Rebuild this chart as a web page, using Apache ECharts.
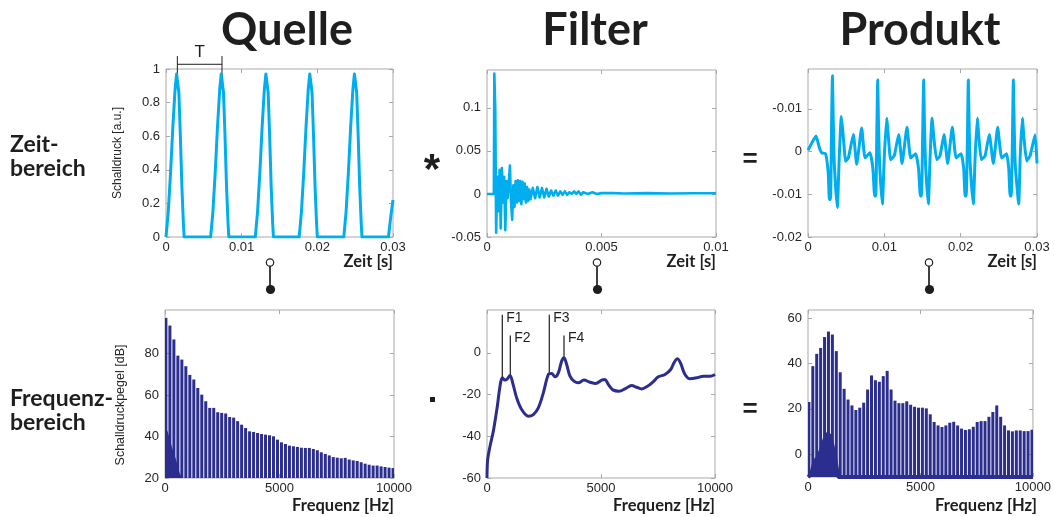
<!DOCTYPE html>
<html><head><meta charset="utf-8">
<script src="https://cdn.jsdelivr.net/npm/echarts@6/dist/echarts.min.js"></script>
<style>html,body{margin:0;padding:0;background:#fff}#c{width:1054px;height:517px}</style>
</head><body><div id="c"></div>
<script>
// ---------------- DATA ----------------
// Quelle, Zeitbereich: [t (s), Schalldruck (a.u.)]
const sourceTime = [
[0,0],[0.0003,0.15],[0.0006,0.38],[0.0009,0.65],[0.0012,0.88],[0.0014,0.97],[0.0015,0.98],[0.0017,0.86],[0.0019,0.6],[0.0021,0.3],[0.0023,0.08],[0.0024,0],
[0.0059,0],[0.0062,0.15],[0.0065,0.38],[0.0068,0.65],[0.0071,0.88],[0.0073,0.97],[0.0074,0.98],[0.0076,0.86],[0.0078,0.6],[0.008,0.3],[0.0082,0.08],[0.0083,0],
[0.0118,0],[0.0121,0.15],[0.0124,0.38],[0.0127,0.65],[0.013,0.88],[0.0132,0.97],[0.0133,0.98],[0.0135,0.86],[0.0137,0.6],[0.0139,0.3],[0.0141,0.08],[0.0142,0],
[0.0176,0],[0.0179,0.15],[0.0182,0.38],[0.0185,0.65],[0.0188,0.88],[0.019,0.97],[0.0191,0.98],[0.0193,0.86],[0.0195,0.6],[0.0197,0.3],[0.0199,0.08],[0.02,0],
[0.0235,0],[0.0238,0.15],[0.0241,0.38],[0.0244,0.65],[0.0247,0.88],[0.0249,0.97],[0.025,0.98],[0.0252,0.86],[0.0254,0.6],[0.0256,0.3],[0.0258,0.08],[0.0259,0],
[0.0294,0],[0.0297,0.12],[0.03,0.22]
];
// Filter, Zeitbereich (Impulsantwort)
const filterTime = [
[0,0],[0.0003,0],[0.00032,0.14],[0.00036,0.1],[0.0004,-0.045],[0.00045,0.02],[0.0005,-0.02],[0.00055,0.028],[0.0006,-0.04],[0.00065,0.03],[0.0007,-0.01],[0.00075,0.02],[0.0008,-0.042],[0.00085,0.015],[0.0009,-0.005],[0.00095,0.012],[0.001,0.033],[0.00105,-0.01],[0.0011,-0.03],[0.00115,0.01],[0.0012,-0.015],[0.00125,0.015],[0.0013,-0.01],[0.00135,0.016],[0.0014,-0.008],[0.00145,0.015],[0.0015,-0.012],[0.00155,0.014],[0.0016,-0.006],[0.00165,0.012],[0.0017,-0.01],[0.00175,0.008],[0.0018,-0.008],[0.00185,0.005],[0.0019,-0.006],[0.002,0.007],[0.0021,-0.005],[0.0022,0.008],[0.0023,-0.004],[0.0024,0.007],[0.0025,-0.004],[0.0026,0.006],[0.0027,-0.003],[0.0028,0.004],[0.0029,-0.002],[0.003,0.004],[0.0031,-0.002],[0.0032,0.003],[0.0033,-0.001],[0.0034,0.003],[0.0035,-0.001],[0.0036,0.002],[0.0037,0],[0.0038,0.003],[0.0039,0],[0.004,0.003],[0.0041,-0.001],[0.0042,0.002],[0.0044,0],[0.0046,0.002],[0.0048,0],[0.005,0.001],[0.0055,0.001],[0.006,0.0005],[0.007,0.001],[0.008,0.0005],[0.009,0.0008],[0.01,0.0008]
];
// Produkt, Zeitbereich
const productTime = [
[0,0.0003],[0.0005,0.002],[0.00105,0.0036],[0.0015,0.0008],[0.0018,-0.0003],[0.0023,-0.0005],
[0.00265,-0.005],[0.0028,-0.0112],[0.00295,-0.0112],[0.00308,0.005],[0.0032,0.0177],[0.0033,0.008],[0.00345,-0.003],[0.00384,-0.0131],[0.0041,-0.001],[0.00437,0.0082],[0.0046,0.004],[0.00494,-0.0023],[0.0053,-0.0014],[0.00594,0.004],[0.00638,-0.003],[0.00703,0.0055],[0.00747,-0.0015],[0.00812,-0.0003],
[0.0085,-0.004],[0.00873,-0.0104],[0.00888,-0.0104],[0.00902,0.005],[0.00913,0.0167],[0.00923,0.007],[0.00938,-0.003],[0.00974,-0.0123],[0.01,-0.001],[0.01031,0.0078],[0.01055,0.003],[0.01083,-0.0019],[0.0113,-0.001],[0.01188,0.004],[0.01232,-0.0028],[0.01297,0.0057],[0.01345,-0.0015],[0.0141,-0.0005],
[0.01448,-0.004],[0.01472,-0.0104],[0.01487,-0.0104],[0.01503,0.005],[0.01515,0.0167],[0.01525,0.007],[0.0154,-0.003],[0.01576,-0.0123],[0.016,-0.001],[0.01625,0.0078],[0.0165,0.003],[0.01686,-0.0019],[0.0173,-0.001],[0.01782,0.004],[0.0183,-0.0028],[0.01891,0.0057],[0.0194,-0.0015],[0.02005,-0.0005],
[0.0204,-0.004],[0.02058,-0.0104],[0.02073,-0.0104],[0.0209,0.005],[0.021,0.0167],[0.0211,0.007],[0.02125,-0.003],[0.02166,-0.0123],[0.0219,-0.001],[0.02218,0.0078],[0.0224,0.003],[0.02271,-0.0019],[0.0232,-0.001],[0.02375,0.004],[0.02428,-0.0028],[0.02485,0.0057],[0.02537,-0.0015],[0.02602,-0.0005],
[0.0263,-0.004],[0.02648,-0.0104],[0.02663,-0.0104],[0.0268,0.005],[0.0269,0.0167],[0.027,0.007],[0.02715,-0.003],[0.0276,-0.0123],[0.0278,-0.001],[0.02808,0.0078],[0.0283,0.003],[0.02865,-0.0022],[0.0291,-0.001],[0.02975,0.0039],[0.03,-0.0028]
];
// Harmonische (Hz)
const harmonicFreqs = [40,214,388,562,736,910,1084,1258,1432,1606,1780,1954,2128,2302,2476,2650,2824,2998,3172,3346,3520,3694,3868,4042,4216,4390,4564,4738,4912,5086,5260,5434,5608,5782,5956,6130,6304,6478,6652,6826,7000,7174,7348,7522,7696,7870,8044,8218,8392,8566,8740,8914,9088,9262,9436,9610,9784,9958];
// Quelle, Frequenzbereich (dB)
const sourceLevels = [97.2,93.5,86.8,79.0,77.1,73.9,69.7,67.5,63.4,60.2,57.0,53.8,53.8,51.7,51.4,51.1,49.4,49.1,47.4,45.7,44.1,42.5,42.2,41.7,41.2,40.9,40.6,40.1,38.5,37.2,36.4,35.6,35.3,35.0,34.6,34.5,34.5,34.0,33.4,32.4,31.6,30.9,30.1,29.8,29.5,29.7,28.9,28.5,28.2,27.6,26.9,26.4,26.0,26.0,25.6,25.3,25.0,24.8];
const sourceValleys = [[0,45],[127,42],[301,35],[475,29],[649,22],[800,19]];
// Filter, Frequenzbereich (dB)
const filterSpectrum = [[0,-60],[29,-51.2],[132,-44.8],[278,-37.6],[453,-25.6],[570,-16],[673,-12],[789,-13.1],[892,-12.5],[1009,-10.9],[1126,-14.4],[1301,-21.6],[1520,-27.2],[1813,-30.4],[2032,-29.6],[2251,-26.4],[2471,-19.2],[2690,-10.4],[2836,-9.9],[2982,-11.5],[3129,-9.6],[3275,-4],[3377,-2.4],[3494,-5.6],[3640,-11.2],[3816,-13.6],[4006,-14.4],[4254,-13.1],[4518,-14.1],[4766,-14.7],[5029,-13.1],[5175,-12.8],[5322,-15.2],[5541,-17.9],[5789,-18.4],[6053,-17.3],[6345,-15.7],[6564,-16.5],[6784,-17.3],[7003,-16.3],[7266,-14.1],[7515,-11.5],[7807,-10.4],[8056,-8],[8202,-4.8],[8348,-2.9],[8494,-5.1],[8684,-10.4],[8904,-12.5],[9196,-12],[9488,-11.2],[9781,-11.2],[10000,-10.4]];
// Produkt, Frequenzbereich (dB)
const productLevels = [23.0,38.8,44.2,46.8,51.6,54.0,52.7,45.4,36.1,28.8,24.1,21.5,19.5,20.5,22.7,28.5,34.7,32.6,31.9,34.4,36.7,28.5,23.6,22.5,22.5,23.3,21.8,20.9,20.5,20.5,20.2,17.6,14.2,12.7,12.0,12.7,13.9,14.3,12.7,11.3,10.7,11.0,12.1,14.2,14.6,14.6,16.5,18.6,21.5,16.5,12.7,10.5,10.1,10.5,10.5,10.2,10.2,10.8];
const productValleys = [[0,-10],[127,-9],[301,-3],[475,-1],[649,4],[823,9],[997,8],[1171,0],[1345,-10],[10000,-10]];
// Formanten
const formantNames = ['F1','F2','F3','F4'];
const formantFreqs = [671,1022,2732,3377];
const formantCurve = [-12.3,-11,-10.3,-2.6];
const formantTops = [18.2,8.3,18.2,8.3];
// Periode T
const periodStart = 0.0015, periodEnd = 0.0074;
// Ticks
const xTicksTime30 = [0,0.01,0.02,0.03];
const xTicksTime10 = [0,0.005,0.01];
const xTicksFreq = [0,5000,10000];
const yTicks1 = [0,0.2,0.4,0.6,0.8,1];
const yTicks2 = [-0.05,0,0.05,0.1];
const yTicks3 = [-0.02,-0.01,0,0.01];
const yTickLabels3 = ['-0.02','-0.01','0','-0.01'];
const yTicks4 = [20,40,60,80];
const yTicks5 = [-60,-40,-20,0];
const yTicks6 = [0,20,40,60];
// Texts
const titles = ['Quelle','Filter','Produkt'];
const rowLabels = [['Zeit-','bereich'],['Frequenz-','bereich']];

// ---------------- CHART ----------------
const GRAY='#a9a9a9', TXT='#262626', LB='#00aeef', NAVY='#2b2e8e', BLK='#1e1e1e';
const TICKFONT = '"Liberation Sans", Arial, sans-serif';
const BOLDFONT = 'Lato, "Liberation Sans", sans-serif';
const grids=[], xAxes=[], yAxes=[];
function fmtFor(vals, labels){
  return function(v){
    const i = vals.findIndex(a=>Math.abs(a-v) < 1e-9*Math.max(1,Math.abs(a)));
    return i<0 ? '' : (labels ? labels[i] : String(vals[i]));
  };
}
function panel(box, xr, xt, yr, yt, ylabels, yname){
  const gi = grids.length;
  grids.push({left:box[0], top:box[1], width:box[2], height:box[3], show:true, borderColor:GRAY, borderWidth:1, backgroundColor:'#fff'});
  const tick = vals => ({show:true, inside:true, length:4, lineStyle:{color:GRAY,width:1}, customValues:vals});
  const lbl = (vals, labels, margin) => ({show:true, customValues:vals, margin:margin, fontSize:13, fontFamily:TICKFONT, color:TXT, formatter:fmtFor(vals,labels)});
  const common = {type:'value', gridIndex:gi, axisLine:{show:false, onZero:false}, splitLine:{show:false}};
  xAxes.push(Object.assign({}, common, {position:'bottom', min:xr[0], max:xr[1], axisTick:tick(xt), axisLabel:lbl(xt,null,4)}));
  xAxes.push(Object.assign({}, common, {position:'top', min:xr[0], max:xr[1], axisTick:tick(xt), axisLabel:{show:false}}));
  const ya = Object.assign({}, common, {position:'left', min:yr[0], max:yr[1], axisTick:tick(yt), axisLabel:lbl(yt,ylabels,6)});
  if (yname) Object.assign(ya, {name:yname.text, nameLocation:'middle', nameGap:yname.gap, nameTextStyle:{fontSize:yname.size, fontFamily:TICKFONT, color:TXT, padding:yname.pad||0}});
  yAxes.push(ya);
  yAxes.push(Object.assign({}, common, {position:'right', min:yr[0], max:yr[1], axisTick:tick(yt), axisLabel:{show:false}}));
  return gi;
}
const Y1=[0,1], Y2=[-0.05,0.144], Y3=[-0.02,0.0193], Y4=[20,101], Y5=[-60,20.5], Y6=[-10,63.5];
const g1 = panel([166,69,227,168],[0,0.03],xTicksTime30,Y1,yTicks1,null,{text:'Schalldruck [a.u.]',gap:42,size:12});
const g2 = panel([487,70,229,167],[0,0.01],xTicksTime10,Y2,yTicks2,null,null);
const g3 = panel([808,69,229,168],[0,0.03],xTicksTime30,Y3,yTicks3,yTickLabels3,null);
const g4 = panel([165,310,229,168],[0,10000],xTicksFreq,Y4,yTicks4,null,{text:'Schalldruckpegel [dB]',gap:38,size:12.5,pad:[0,22,0,0]});
const g5 = panel([487,310,228,168],[0,10000],xTicksFreq,Y5,yTicks5,null,null);
const g6 = panel([808,310,229,167],[0,10000],xTicksFreq,Y6,yTicks6,null,null);

function lineSeries(gi, data, color, width, smooth){
  return {type:'line', xAxisIndex:2*gi, yAxisIndex:2*gi, data:data, symbol:'none', smooth:smooth||false,
    lineStyle:{color:color, width:width, join:'round'}, silent:true, animation:false, clip:true};
}
function barSeries(gi, freqs, levels, yMin){
  return {type:'custom', xAxisIndex:2*gi, yAxisIndex:2*gi, clip:true, silent:true, animation:false,
    data: freqs.map((f,i)=>[f, levels[i]]),
    encode:{x:0, y:1},
    renderItem:function(params, api){
      const top = api.coord([api.value(0), api.value(1)]);
      const bot = api.coord([api.value(0), yMin]);
      const w = 3;
      return {type:'rect', shape:{x:top[0]-w/2, y:top[1], width:w, height:bot[1]-top[1]}, style:{fill:NAVY}};
    }};
}
function valleySeries(gi, data, lw){
  return {type:'line', xAxisIndex:2*gi, yAxisIndex:2*gi, data:data, symbol:'none', silent:true, animation:false, clip:true,
    lineStyle:{color:NAVY, width:lw}, areaStyle:{origin:'start', color:NAVY, opacity:1}};
}

const series = [
  lineSeries(g1, sourceTime, LB, 3),
  lineSeries(g2, filterTime, LB, 2.6),
  lineSeries(g3, productTime, LB, 3, 0.15),
  valleySeries(g4, sourceValleys, 0),
  barSeries(g4, harmonicFreqs, sourceLevels, Y4[0]),
  lineSeries(g5, filterSpectrum, NAVY, 3, 0.35),
  valleySeries(g6, productValleys, 4),
  barSeries(g6, harmonicFreqs, productLevels, Y6[0])
];

// static decorations
const graphics = [];
const titleX = [287,595,920];
titles.forEach((t,i)=>graphics.push({type:'text', x:titleX[i], y:30, silent:true,
  style:{text:t, fill:BLK, font:'bold 45px '+BOLDFONT, textAlign:'center', textVerticalAlign:'middle'}}));
const rowY = [[145,169],[399,423]];
rowLabels.forEach((pair,r)=>pair.forEach((t,k)=>graphics.push({type:'text', x:10, y:rowY[r][k], silent:true,
  style:{text:t, fill:BLK, font:'bold 23px '+BOLDFONT, textAlign:'left', textVerticalAlign:'middle'}})));
// axis names
[[393,262,'Zeit [s]'],[716,262,'Zeit [s]'],[1037,262,'Zeit [s]'],[394,506,'Frequenz [Hz]'],[715,506,'Frequenz [Hz]'],[1037,506,'Frequenz [Hz]']]
  .forEach(a=>graphics.push({type:'text', x:a[0], y:a[1], silent:true,
    style:{text:a[2], fill:BLK, font:'bold 16.5px '+BOLDFONT, textAlign:'right', textVerticalAlign:'middle'}}));
// operators
graphics.push({type:'text', x:432, y:171, silent:true, style:{text:'*', fill:BLK, font:'bold 42px '+TICKFONT, textAlign:'center', textVerticalAlign:'middle'}});
graphics.push({type:'text', x:750, y:160, silent:true, style:{text:'=', fill:BLK, font:'bold 26px '+TICKFONT, textAlign:'center', textVerticalAlign:'middle'}});
graphics.push({type:'rect', silent:true, shape:{x:430, y:397, width:5, height:5}, style:{fill:BLK}});
graphics.push({type:'text', x:750, y:410, silent:true, style:{text:'=', fill:BLK, font:'bold 26px '+TICKFONT, textAlign:'center', textVerticalAlign:'middle'}});
// lollipops
[270,597,929].forEach(x=>{
  graphics.push({type:'line', silent:true, shape:{x1:x, y1:266, x2:x, y2:287}, style:{stroke:BLK, lineWidth:1.7}});
  graphics.push({type:'circle', silent:true, shape:{cx:x, cy:262.5, r:3.7}, style:{fill:'#fff', stroke:BLK, lineWidth:1.2}});
  graphics.push({type:'circle', silent:true, shape:{cx:x+0.5, cy:289.5, r:4.6}, style:{fill:BLK}});
});

const chart = echarts.init(document.getElementById('c'), null, {renderer:'canvas'});
chart.setOption({animation:false, backgroundColor:'#fff', grid:grids, xAxis:xAxes, yAxis:yAxes, series:series, graphic:graphics});

// annotations placed through the axes' scales
const ann = [];
function px(gi, p){ return chart.convertToPixel({xAxisIndex:2*gi, yAxisIndex:2*gi}, p); }
function seg(gi, a, b, w){ const p=px(gi,a), q=px(gi,b); ann.push({type:'line', silent:true, shape:{x1:p[0],y1:p[1],x2:q[0],y2:q[1]}, style:{stroke:BLK, lineWidth:w}}); }
// period T
seg(g1, [periodStart,0.88], [periodStart,1.077], 1);
seg(g1, [periodEnd,0.88], [periodEnd,1.077], 1);
seg(g1, [periodStart,1.028], [periodEnd,1.028], 1);
const tp = px(g1, [(periodStart+periodEnd)/2, 1.1]);
ann.push({type:'text', x:tp[0], y:tp[1], silent:true, style:{text:'T', fill:BLK, font:'17px '+TICKFONT, textAlign:'center', textVerticalAlign:'middle'}});
// formants
formantNames.forEach((n,i)=>{
  seg(g5, [formantFreqs[i], formantCurve[i]], [formantFreqs[i], formantTops[i]], 1.2);
  const p = px(g5, [formantFreqs[i], formantTops[i]]);
  ann.push({type:'text', x:p[0]+4, y:p[1]+3, silent:true, style:{text:n, fill:BLK, font:'14px '+TICKFONT, textAlign:'left', textVerticalAlign:'middle'}});
});
chart.setOption({graphic: graphics.concat(ann)});
</script></body></html>
